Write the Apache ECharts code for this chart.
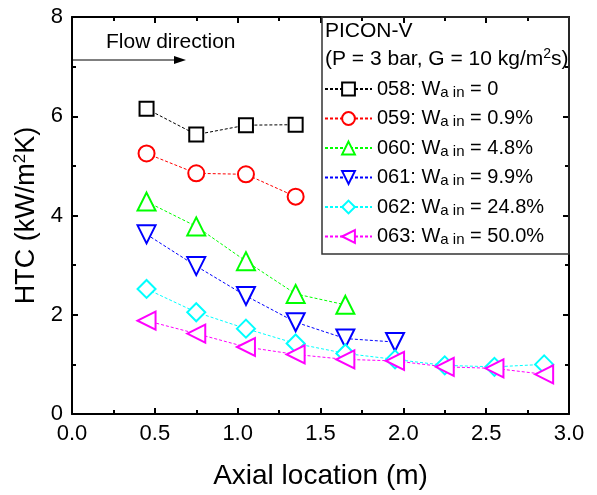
<!DOCTYPE html>
<html>
<head>
<meta charset="utf-8">
<script src="https://cdn.jsdelivr.net/npm/echarts@6/dist/echarts.min.js"></script>
<style>
  html, body { margin: 0; padding: 0; background: #fff; }
  #chart { width: 597px; height: 495px; }
</style>
</head>
<body>
<div id="chart"></div>
<script>
// Axial locations (m)
const xLocations = [0.45, 0.75, 1.05, 1.35, 1.65, 1.95, 2.25, 2.55, 2.85];

// HTC values (kW/m2K) per test run
const run058 = [6.15, 5.63, 5.82, 5.83];
const run059 = [5.25, 4.85, 4.83, 4.38];
const run060 = [4.28, 3.78, 3.08, 2.42, 2.20];
const run061 = [3.62, 2.98, 2.38, 1.85, 1.52, 1.45];
const run062 = [2.52, 2.05, 1.72, 1.42, 1.22, 1.10, 0.98, 0.95, 1.00];
const run063 = [1.88, 1.62, 1.35, 1.20, 1.10, 1.07, 0.95, 0.92, 0.80];

const runNames = ['058', '059', '060', '061', '062', '063'];
const airFractions = ['0', '0.9%', '4.8%', '9.9%', '24.8%', '50.0%'];

const FONT = 'Liberation Sans, Arial, sans-serif';

function pairUp(values) {
    return values.map((v, i) => [xLocations[i], v]);
}

const seriesStyle = [
    { data: run058, color: '#000000', symbol: 'emptyRect', size: 14, rotate: 0 },
    { data: run059, color: '#ff0000', symbol: 'emptyCircle', size: 16, rotate: 0 },
    { data: run060, color: '#00ff00', symbol: 'emptyTriangle', size: 18, rotate: 0 },
    { data: run061, color: '#0000ff', symbol: 'emptyTriangle', size: 18, rotate: 180 },
    { data: run062, color: '#00ffff', symbol: 'emptyDiamond', size: [18, 18], rotate: 0 },
    { data: run063, color: '#ff00ff', symbol: 'emptyTriangle', size: 18, rotate: 90 }
];

const series = seriesStyle.map((s, i) => ({
    name: runNames[i],
    type: 'line',
    data: pairUp(s.data),
    symbol: s.symbol,
    symbolSize: s.size,
    symbolRotate: s.rotate,
    showAllSymbol: true,
    lineStyle: { color: s.color, width: 1, type: [3, 2] },
    itemStyle: { color: s.color, borderColor: s.color, borderWidth: 2 },
    emphasis: { disabled: true },
    animation: false,
    z: 3
}));

const chart = echarts.init(document.getElementById('chart'));

const tickStyle = {
    axisLine: { show: true, onZero: false, lineStyle: { color: '#000', width: 2 } },
    axisTick: { show: true, inside: true, length: 6, lineStyle: { color: '#000', width: 2 } },
    minorTick: { show: true, splitNumber: 2, length: 4, lineStyle: { color: '#000', width: 2 } },
    splitLine: { show: false }
};

chart.setOption({
    backgroundColor: '#fff',
    animation: false,
    grid: { left: 72, right: 28, top: 17, bottom: 79 },
    xAxis: [
        Object.assign({
            type: 'value', min: 0, max: 3, interval: 0.5, position: 'bottom',
            name: 'Axial location (m)', nameLocation: 'middle', nameGap: 48,
            nameTextStyle: { fontFamily: FONT, fontSize: 28, color: '#000' },
            axisLabel: {
                fontFamily: FONT, fontSize: 22, color: '#000', margin: 9,
                formatter: v => v.toFixed(1)
            }
        }, tickStyle),
        Object.assign({
            type: 'value', min: 0, max: 3, interval: 0.5, position: 'top',
            axisLabel: { show: false }
        }, tickStyle)
    ],
    yAxis: [
        Object.assign({
            type: 'value', min: 0, max: 8, interval: 2, position: 'left',
            name: '{a|HTC (kW/m}{sup|2}{a|K)}', nameLocation: 'middle', nameGap: 24,
            nameTextStyle: {
                rich: {
                    a: { fontFamily: FONT, fontSize: 27, color: '#000' },
                    sup: { fontFamily: FONT, fontSize: 17, color: '#000', verticalAlign: 'top', padding: [0, 0, 12, 0] }
                }
            },
            axisLabel: { fontFamily: FONT, fontSize: 22, color: '#000', margin: 9 }
        }, tickStyle),
        Object.assign({
            type: 'value', min: 0, max: 8, interval: 2, position: 'right',
            axisLabel: { show: false }
        }, tickStyle)
    ],
    legend: {
        orient: 'vertical',
        left: 324,
        top: 79,
        padding: 0,
        itemWidth: 47,
        itemHeight: 16,
        itemGap: 8.5,
        selectedMode: false,
        data: runNames,
        formatter: function(name) {
            const i = runNames.indexOf(name);
            return '{n|' + name + ': W}{sub|a in}{n| = ' + airFractions[i] + '}';
        },
        textStyle: {
            rich: {
                n: { fontFamily: FONT, fontSize: 20, lineHeight: 22, color: '#000' },
                sub: { fontFamily: FONT, fontSize: 15, lineHeight: 8, verticalAlign: 'bottom', color: '#000' }
            }
        }
    },
    graphic: [
        {
            type: 'rect', z: 10,
            shape: { x: 322, y: 17, width: 247, height: 237 },
            style: { fill: 'none', stroke: '#333', lineWidth: 1.5 }
        },
        {
            type: 'text', left: 325, top: 21, z: 10,
            style: { text: 'PICON-V', font: '21px ' + FONT, fill: '#000' }
        },
        {
            type: 'text', left: 325, top: 47, z: 10,
            style: {
                text: '{t|(P = 3 bar, G = 10 kg/m}{sup|2}{t|s)}',
                rich: {
                    t: { fontFamily: FONT, fontSize: 21, fill: '#000' },
                    sup: { fontFamily: FONT, fontSize: 14, fill: '#000', padding: [0, 0, 11, 0] }
                }
            }
        },
        {
            type: 'text', left: 106, top: 32, z: 10,
            style: { text: 'Flow direction', font: '21px ' + FONT, fill: '#000' }
        },
        {
            type: 'line', z: 10,
            shape: { x1: 72, y1: 60, x2: 176, y2: 60 },
            style: { stroke: '#000', lineWidth: 1 }
        },
        {
            type: 'polygon', z: 10,
            shape: { points: [[186, 60], [174, 56], [174, 64]] },
            style: { fill: '#000' }
        }
    ],
    series: series
});
</script>
</body>
</html>
